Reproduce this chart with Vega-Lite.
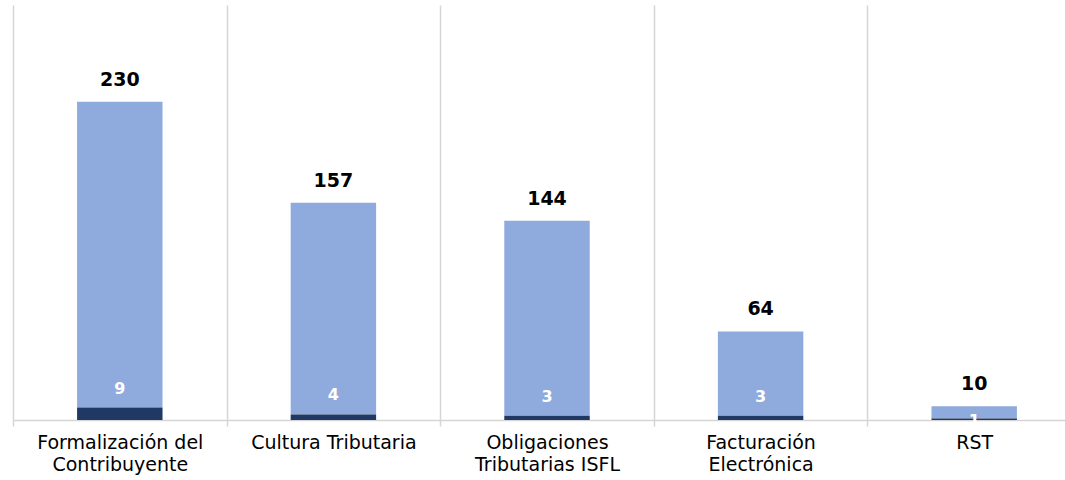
{
  "$schema": "https://vega.github.io/schema/vega-lite/v6.json",
  "width": 1068,
  "height": 415,
  "autosize": "none",
  "padding": {"left": 13, "top": 5, "right": 0, "bottom": 60},
  "background": "white",
  "config": {"view": {"stroke": null}, "font": "DejaVu Sans"},
  "data": {
    "values": [
      {"categoria": "Formalización del Contribuyente", "nuevos": 9, "total": 230},
      {"categoria": "Cultura Tributaria", "nuevos": 4, "total": 157},
      {"categoria": "Obligaciones Tributarias ISFL", "nuevos": 3, "total": 144},
      {"categoria": "Facturación Electrónica", "nuevos": 3, "total": 64},
      {"categoria": "RST", "nuevos": 1, "total": 10}
    ]
  },
  "encoding": {
    "x": {
      "field": "categoria",
      "type": "nominal",
      "sort": null,
      "scale": {"paddingInner": 0, "paddingOuter": 0},
      "axis": {
        "title": null,
        "labelAngle": 0,
        "labelFont": "DejaVu Sans",
        "labelFontSize": 19,
        "labelColor": "#000000",
        "labelPadding": 7,
        "labelLineHeight": 22,
        "labelBaseline": "top",
        "labelExpr": "datum.value == 'Formalización del Contribuyente' ? ['Formalización del', 'Contribuyente'] : datum.value == 'Obligaciones Tributarias ISFL' ? ['Obligaciones', 'Tributarias ISFL'] : datum.value == 'Facturación Electrónica' ? ['Facturación', 'Electrónica'] : datum.value",
        "grid": true,
        "gridColor": "#D5D5D5",
        "gridWidth": 1.5,
        "tickBand": "extent",
        "ticks": true,
        "tickColor": "#D5D5D5",
        "tickWidth": 1.5,
        "tickSize": 6,
        "domain": true,
        "domainColor": "#D5D5D5",
        "domainWidth": 1.5
      }
    }
  },
  "layer": [
    {
      "mark": {"type": "bar", "color": "#8FAADC", "width": {"band": 0.4}},
      "encoding": {
        "y": {"field": "total", "type": "quantitative", "scale": {"domain": [0, 300], "nice": false}, "axis": null},
        "y2": {"field": "nuevos"}
      }
    },
    {
      "mark": {"type": "bar", "color": "#203864", "width": {"band": 0.4}},
      "encoding": {
        "y": {"field": "nuevos", "type": "quantitative"}
      }
    },
    {
      "mark": {"type": "text", "fontWeight": "bold", "fontSize": 19, "color": "#000000", "baseline": "middle", "dy": -22},
      "encoding": {
        "y": {"field": "total", "type": "quantitative"},
        "text": {"field": "total", "type": "quantitative"}
      }
    },
    {
      "transform": [{"filter": "datum.total >= 20"}],
      "mark": {"type": "text", "fontSize": 16, "fontWeight": "bold", "color": "#FFFFFF", "baseline": "middle", "dy": -19},
      "encoding": {
        "y": {"field": "nuevos", "type": "quantitative"},
        "text": {"field": "nuevos", "type": "quantitative"}
      }
    },
    {
      "transform": [{"filter": "datum.total < 20"}],
      "mark": {"type": "text", "fontSize": 16, "fontWeight": "bold", "color": "#FFFFFF", "baseline": "middle", "dy": 2},
      "encoding": {
        "y": {"field": "nuevos", "type": "quantitative"},
        "text": {"field": "nuevos", "type": "quantitative"}
      }
    }
  ]
}
